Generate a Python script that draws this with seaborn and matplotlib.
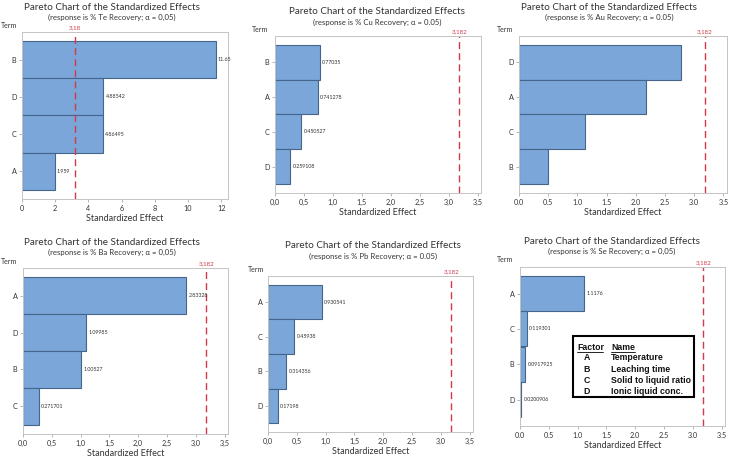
import matplotlib
matplotlib.use("Agg")
import matplotlib.pyplot as plt
import seaborn as sns
from matplotlib.patches import Rectangle
from matplotlib.lines import Line2D

# data (bar order top -> bottom)
terms_te = ["B", "D", "C", "A"]
effects_te = [11.65, 4.88542, 4.86495, 1.959]
terms_cu = ["B", "A", "C", "D"]
effects_cu = [0.77035, 0.741278, 0.450527, 0.259108]
terms_au = ["D", "A", "C", "B"]
effects_au = [2.77, 2.17, 1.13, 0.50]
terms_ba = ["A", "D", "B", "C"]
effects_ba = [2.83328, 1.09985, 1.00527, 0.271701]
terms_pb = ["A", "C", "B", "D"]
effects_pb = [0.930541, 0.45938, 0.314356, 0.17198]
terms_se = ["A", "C", "B", "D"]
effects_se = [1.1176, 0.119301, 0.0917925, 0.0200906]

responses = ["Te", "Cu", "Au", "Ba", "Pb", "Se"]
alpha_text = ["0,05", "0.05", "0.05", "0,05", "0.05", "0,05"]
crit_values = [3.18, 3.182, 3.182, 3.182, 3.182, 3.182]
crit_labels = ["3,18", "3,182", "3,182", "3,182", "3,182", "3,182"]

factor_letters = ["A", "B", "C", "D"]
factor_names = ["Temperature", "Leaching time", "Solid to liquid ratio", "Ionic liquid conc."]

sns.set_style("white")
plt.rcParams["font.family"] = ["Lato", "DejaVu Sans"]

W, H = 732, 461
fig = plt.figure(figsize=(W / 100, H / 100), dpi=100)


def box(l, t, r, b):
    return [l / W, 1 - b / H, (r - l) / W, (b - t) / H]


def fx(x):
    return x / W


def fy(y):
    return 1 - y / H


BAR = "#7aa6d9"
EDGE = "#46658c"
RED = "#d23a4c"
TXT = "#333333"

panels = [
    dict(terms=terms_te, eff=effects_te, box=(22, 32, 228, 199), ty=7, tx=112,
         term=(1, 25), xmax=12.4, ticks=[0, 2, 4, 6, 8, 10, 12], sep=None, vals=True),
    dict(terms=terms_cu, eff=effects_cu, box=(275, 36, 481, 193), ty=12, tx=377,
         term=(252, 29), xmax=3.56, ticks=[0, 0.5, 1, 1.5, 2, 2.5, 3, 3.5], sep=",", vals=True),
    dict(terms=terms_au, eff=effects_au, box=(519, 36, 727, 193), ty=7, tx=609,
         term=(497, 29), xmax=3.56, ticks=[0, 0.5, 1, 1.5, 2, 2.5, 3, 3.5], sep=".", vals=False),
    dict(terms=terms_ba, eff=effects_ba, box=(23, 268, 228, 434), ty=242, tx=112,
         term=(1, 262), xmax=3.56, ticks=[0, 0.5, 1, 1.5, 2, 2.5, 3, 3.5], sep=",", vals=True),
    dict(terms=terms_pb, eff=effects_pb, box=(268, 276, 473, 432), ty=246, tx=373,
         term=(248, 269), xmax=3.56, ticks=[0, 0.5, 1, 1.5, 2, 2.5, 3, 3.5], sep=",", vals=True),
    dict(terms=terms_se, eff=effects_se, box=(520, 267, 725, 426), ty=241, tx=612,
         term=(497, 259), xmax=3.56, ticks=[0, 0.5, 1, 1.5, 2, 2.5, 3, 3.5], sep=".", vals=True),
]

for i, p in enumerate(panels):
    l, t, r, b = p["box"]
    ax = fig.add_axes(box(l, t, r, b))
    sns.barplot(x=p["eff"], y=p["terms"], orient="h", ax=ax, color=BAR,
                edgecolor=EDGE, linewidth=0.8, width=1.0, saturation=1)
    ax.set_xlim(0, p["xmax"])
    ax.set_ylim(3.75, -0.75)
    ax.set_xticks(p["ticks"])
    if p["sep"] is None:
        ax.set_xticklabels([str(int(v)) for v in p["ticks"]])
    else:
        ax.set_xticklabels([f"{v:.1f}".replace(".", p["sep"]) for v in p["ticks"]])
    ax.tick_params(axis="both", labelsize=5.2, colors="#999999", labelcolor=TXT,
                   length=2, width=0.5, pad=2, bottom=True, left=True)
    for s in ax.spines.values():
        s.set_color("#c4c4c4")
        s.set_linewidth(0.7)
    ax.set_ylabel("")
    ax.set_xlabel("Standardized Effect", fontsize=6.5, color=TXT, labelpad=2)

    # critical value line
    ax.axvline(crit_values[i], color=RED, linestyle=(0, (5, 3)), linewidth=1.0)
    ax.text(crit_values[i], 1.01, crit_labels[i], transform=ax.get_xaxis_transform(),
            ha="center", va="bottom", fontsize=4.5, color=RED)

    if p["vals"]:
        off = p["xmax"] * 0.012
        for j, v in enumerate(p["eff"]):
            ax.text(v + off, j, str(v), ha="left", va="center", fontsize=3.8, color=TXT)

    fig.text(fx(p["tx"]), fy(p["ty"]), "Pareto Chart of the Standardized Effects",
             ha="center", va="center", fontsize=7.1, color=TXT)
    fig.text(fx(p["tx"]), fy(p["ty"] + 10),
             f"(response is % {responses[i]} Recovery; \u03b1 = {alpha_text[i]})",
             ha="center", va="center", fontsize=5.6, color=TXT)
    fig.text(fx(p["term"][0]), fy(p["term"][1]), "Term", ha="left", va="center",
             fontsize=5, color=TXT)

# factor legend box in the last panel
fig.patches.append(Rectangle((fx(573), fy(397)), fx(694) - fx(573), fy(336) - fy(397),
                             transform=fig.transFigure, fill=False, edgecolor="black",
                             linewidth=1.5, figure=fig))
leg_font = dict(fontsize=6.3, fontweight="bold", family=["Liberation Sans", "DejaVu Sans"],
                color="#111111", va="center")
fig.text(fx(577), fy(347), "Factor", ha="left", **leg_font)
fig.text(fx(611), fy(347), "Name", ha="left", **leg_font)
fig.lines.append(Line2D([fx(577), fx(603)], [fy(352), fy(352)], transform=fig.transFigure,
                        color="black", linewidth=0.6))
fig.lines.append(Line2D([fx(611), fx(635)], [fy(352), fy(352)], transform=fig.transFigure,
                        color="black", linewidth=0.6))
for k, (letter, name) in enumerate(zip(factor_letters, factor_names)):
    yy = fy(358 + k * 11)
    fig.text(fx(587), yy, letter, ha="center", **leg_font)
    fig.text(fx(611), yy, name, ha="left", **leg_font)

fig.savefig("out.png", dpi=100, facecolor="white")
